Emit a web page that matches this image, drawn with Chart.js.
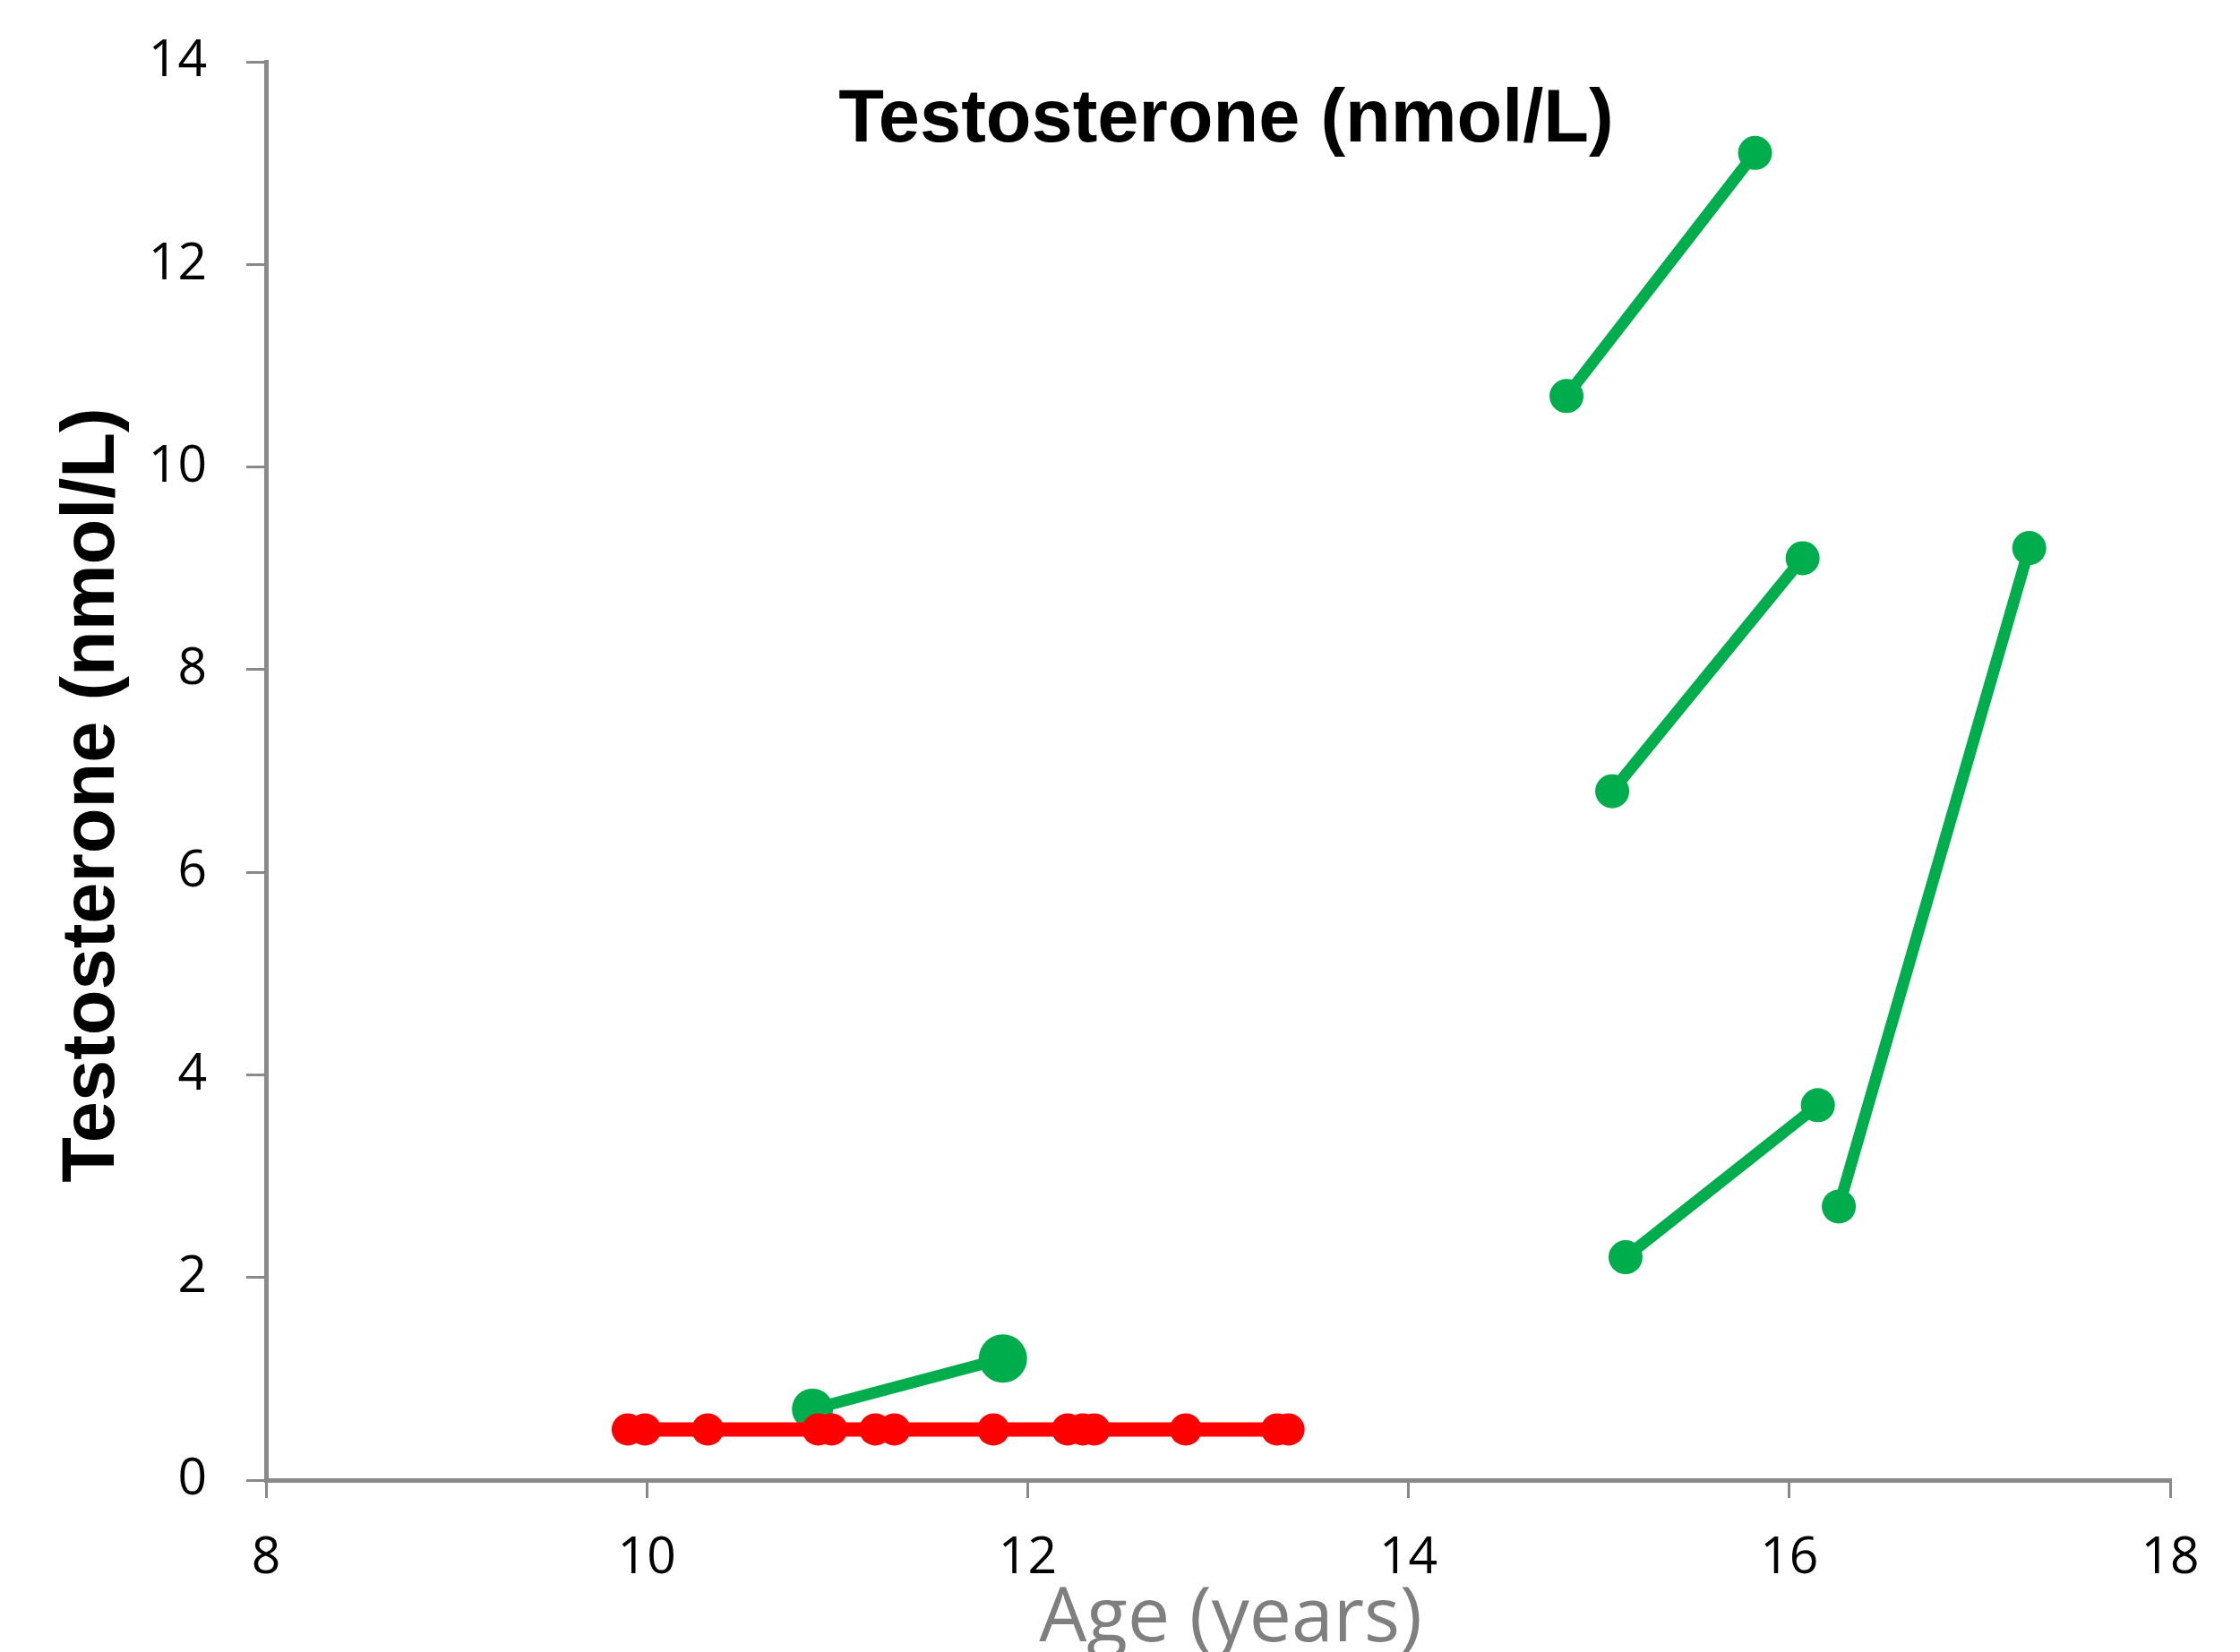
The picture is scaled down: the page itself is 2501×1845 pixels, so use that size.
<!DOCTYPE html>
<html>
<head>
<meta charset="utf-8">
<script src="https://cdn.jsdelivr.net/npm/chart.js@4"></script>
<style>
  html, body { margin: 0; padding: 0; background: #fff; }
  #wrap { width: 2501px; height: 1845px; position: relative; }
</style>
</head>
<body>
<div id="wrap"><canvas id="chart"></canvas></div>
<script>
// red group (all at the detection limit)
const redAges = [9.90, 9.99, 10.32, 10.90, 10.97, 11.20, 11.30, 11.82, 12.21, 12.29, 12.35, 12.83, 13.31, 13.37];
const redValues = [0.5, 0.5, 0.5, 0.5, 0.5, 0.5, 0.5, 0.5, 0.5, 0.5, 0.5, 0.5, 0.5, 0.5];

// green group, one pair of visits per subject
const greenAges = [[10.87, 11.87], [14.83, 15.82], [15.07, 16.07], [15.14, 16.15], [16.26, 17.26]];
const greenValues = [[0.7, 1.2], [10.7, 13.1], [6.8, 9.1], [2.2, 3.7], [2.7, 9.2]];

const xTicks = [8, 10, 12, 14, 16, 18];
const yTicks = [0, 2, 4, 6, 8, 10, 12, 14];

const chartTitle = 'Testosterone (nmol/L)';
const yTitle = 'Testosterone (nmol/L)';
const xTitle = 'Age (years)';

const RED = '#ff0000';
const GREEN = '#00ad4d';
const AXIS = '#898989';

const toPoints = (xs, ys) => xs.map((x, i) => ({ x: x, y: ys[i] }));

const datasets = [
    {
        label: 'red',
        data: toPoints(redAges, redValues),
        borderColor: RED,
        backgroundColor: RED,
        borderWidth: 16,
        pointRadius: 18,
        pointBorderWidth: 0,
        order: 0
    }
];
greenAges.forEach((ages, i) => {
    datasets.push({
        label: 'green ' + (i + 1),
        data: toPoints(ages, greenValues[i]),
        borderColor: GREEN,
        backgroundColor: GREEN,
        borderWidth: 13,
        pointRadius: i === 0 ? [23, 27] : 19,
        pointBorderWidth: 0,
        order: 1
    });
});

// titles are a bit off-centre in the original (chart title even sits inside
// the plot area), so all three are drawn by hand
const handTitles = {
    id: 'handTitles',
    afterDraw(chart) {
        const { ctx, chartArea } = chart;
        const midX = (chartArea.left + chartArea.right) / 2;
        ctx.save();
        ctx.textAlign = 'center';
        ctx.textBaseline = 'middle';

        ctx.fillStyle = '#000';
        ctx.font = 'bold 83px "Liberation Sans", Arial, sans-serif';
        ctx.fillText(chartTitle, midX + 9, chartArea.top + 66);

        ctx.fillStyle = '#7f7f7f';
        ctx.font = '84px "Open Sans", sans-serif';
        ctx.fillText(xTitle, midX + 14, chart.height - 36);

        ctx.fillStyle = '#000';
        ctx.font = 'bold 83px "Liberation Sans", Arial, sans-serif';
        ctx.translate(104, (chartArea.top + chartArea.bottom) / 2 + 27);
        ctx.rotate(-Math.PI / 2);
        ctx.fillText(yTitle, 0, 0);
        ctx.restore();
    }
};

const tickFont = { family: '"Open Sans", sans-serif', size: 57 };

new Chart(document.getElementById('chart'), {
    type: 'line',
    data: { datasets: datasets },
    plugins: [handTitles],
    options: {
        responsive: true,
        maintainAspectRatio: false,
        animation: false,
        layout: { padding: { top: 69, right: 78, left: 0, bottom: 0 } },
        plugins: {
            legend: { display: false },
            tooltip: { enabled: false },
            title: { display: false }
        },
        elements: { line: { tension: 0 } },
        scales: {
            x: {
                type: 'linear',
                min: 8,
                max: 18,
                afterBuildTicks: s => { s.ticks = xTicks.map(v => ({ value: v })); },
                afterFit: s => { s.height = 192; },
                grid: { drawOnChartArea: false, drawTicks: true, tickLength: 20, color: AXIS, lineWidth: 3 },
                border: { display: true, color: AXIS, width: 5 },
                ticks: { font: tickFont, color: '#000', padding: 34, maxRotation: 0 }
            },
            y: {
                type: 'linear',
                min: 0,
                max: 14,
                afterBuildTicks: s => { s.ticks = yTicks.map(v => ({ value: v })); },
                afterFit: s => {
                    s.width = 297;
                    // tick padding would otherwise push the plot top down
                    s.paddingTop = 30;
                    s.paddingBottom = 30;
                },
                grid: { drawOnChartArea: false, drawTicks: true, tickLength: 22, color: AXIS, lineWidth: 3 },
                border: { display: true, color: AXIS, width: 5 },
                ticks: { font: tickFont, color: '#000', padding: 44 }
            }
        }
    }
});
</script>
</body>
</html>
